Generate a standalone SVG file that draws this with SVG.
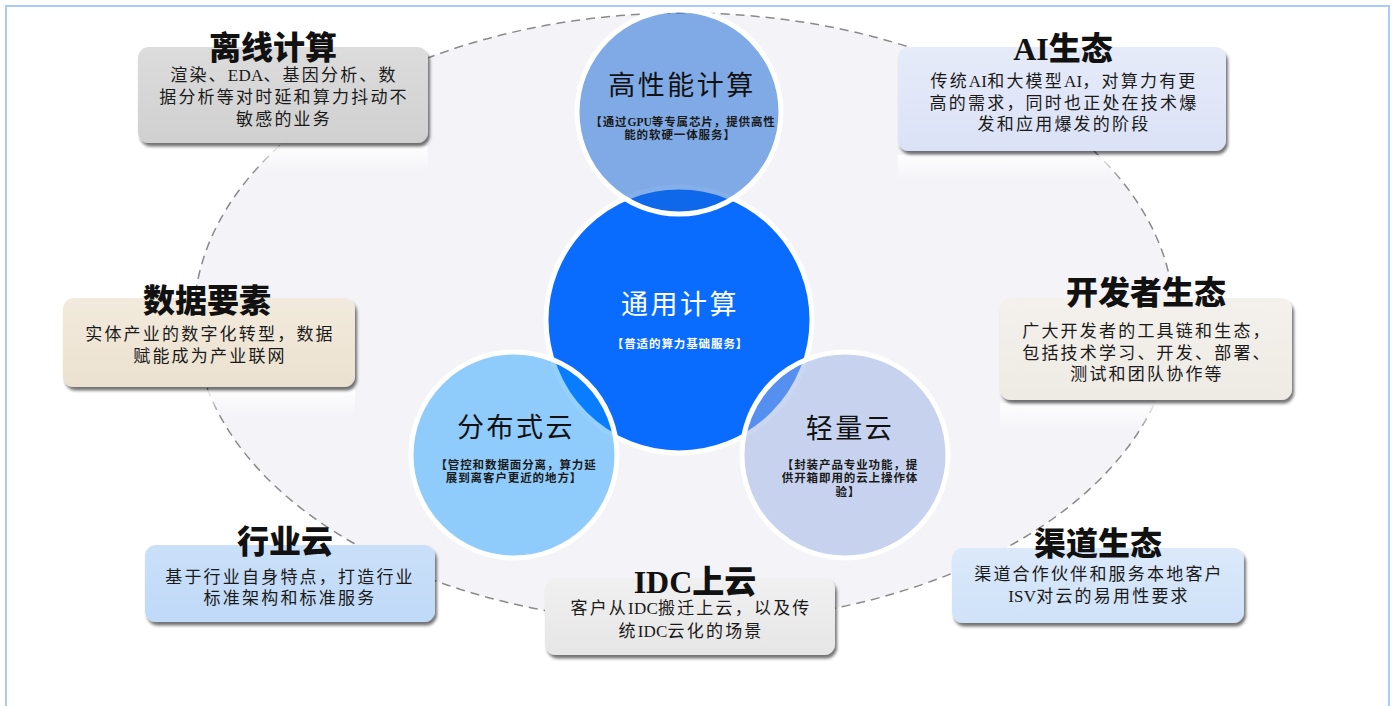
<svg xmlns="http://www.w3.org/2000/svg" width="1396" height="706" viewBox="0 0 1396 706">
<defs>
  <filter id="sh" x="-10%" y="-10%" width="125%" height="135%">
    <feDropShadow dx="2" dy="3.5" stdDeviation="1.6" flood-color="#000" flood-opacity="0.55"/>
  </filter>
  <linearGradient id="refl" x1="0" y1="0" x2="0" y2="1">
    <stop offset="0" stop-color="#fff" stop-opacity="0.9"/>
    <stop offset="1" stop-color="#fff" stop-opacity="0"/>
  </linearGradient>
  <linearGradient id="gGray" x1="0" y1="0" x2="0" y2="1"><stop offset="0" stop-color="#dcdcdc"/><stop offset="1" stop-color="#d0d0d0"/></linearGradient>
  <linearGradient id="gLav" x1="0" y1="0" x2="0" y2="1"><stop offset="0" stop-color="#e6ebf9"/><stop offset="1" stop-color="#dbe2f6"/></linearGradient>
  <linearGradient id="gBeige" x1="0" y1="0" x2="0" y2="1"><stop offset="0" stop-color="#f2eadc"/><stop offset="1" stop-color="#ebe1d0"/></linearGradient>
  <linearGradient id="gWarm" x1="0" y1="0" x2="0" y2="1"><stop offset="0" stop-color="#f4f1ec"/><stop offset="1" stop-color="#eeeae4"/></linearGradient>
  <linearGradient id="gBlue" x1="0" y1="0" x2="0" y2="1"><stop offset="0" stop-color="#cae0f9"/><stop offset="1" stop-color="#bfd9f7"/></linearGradient>
  <linearGradient id="gLight" x1="0" y1="0" x2="0" y2="1"><stop offset="0" stop-color="#f0f0f0"/><stop offset="1" stop-color="#e6e6e6"/></linearGradient>
  <linearGradient id="gSky" x1="0" y1="0" x2="0" y2="1"><stop offset="0" stop-color="#dbe9fa"/><stop offset="1" stop-color="#cfe2f8"/></linearGradient>
</defs>
<style>
  .frame { fill: #ffffff; stroke: #a9cbf9; stroke-width: 2; }
  .orbit { fill: #f4f4f8; stroke: #8a8a8a; stroke-width: 1.5; stroke-dasharray: 9 6; }
  .box { filter: url(#sh); }
  .ring { stroke: #ffffff; stroke-width: 5; }
  .title { font-family: "Liberation Serif", "Noto Sans CJK SC", serif; font-size: 32px; font-weight: 900; fill: #111; text-anchor: middle; }
  .body { font-family: "Liberation Serif", "Noto Sans CJK SC", serif; font-size: 17px; fill: #1a1a1a; text-anchor: middle; letter-spacing: 2.2px; }
  .lat { letter-spacing: 0.2px; }
  .ctitle { font-family: "Liberation Serif", "Noto Sans CJK SC", serif; font-size: 27px; fill: #111; text-anchor: middle; letter-spacing: 2.5px; }
  .csub { font-family: "Liberation Serif", "Noto Sans CJK SC", serif; font-size: 11.5px; font-weight: bold; fill: #1a1a1a; text-anchor: middle; letter-spacing: 0.9px; }
  .white { fill: #ffffff; }
</style>

<rect class="frame" x="6" y="6" width="1383" height="710"/>

<g id="orbit">
  <ellipse class="orbit" cx="684" cy="318" rx="490" ry="305"/>
</g>

<g id="reflections">
  <rect x="138" y="146" width="290" height="26" fill="url(#refl)"/>
  <rect x="898" y="155" width="328" height="26" fill="url(#refl)"/>
  <rect x="63" y="390" width="292" height="26" fill="url(#refl)"/>
  <rect x="1000" y="403" width="292" height="28" fill="url(#refl)"/>
  <rect x="145" y="625" width="290" height="24" fill="url(#refl)"/>
  <rect x="545" y="658" width="290" height="24" fill="url(#refl)"/>
  <rect x="952" y="626" width="292" height="24" fill="url(#refl)"/>
</g>

<g id="node-general">
  <circle class="ring" cx="679" cy="320" r="133" fill="#0a6cff"/>
  <text class="ctitle white" x="680" y="314" font-size="30" letter-spacing="3">通用计算</text>
  <text class="csub white" x="680" y="348" letter-spacing="1.4">【普适的算力基础服务】</text>
</g>

<g id="node-hpc">
  <circle class="ring" cx="679" cy="112" r="102" fill="#1566d5" fill-opacity="0.52"/>
  <text class="ctitle" x="682" y="95">高性能计算</text>
  <text class="csub" x="683" y="126">【通过<tspan letter-spacing="0">GPU</tspan>等专属芯片，提供高性</text>
  <text class="csub" x="680" y="139">能的软硬一体服务】</text>
</g>

<g id="node-distributed">
  <circle class="ring" cx="514" cy="455" r="103" fill="#0a95ff" fill-opacity="0.43"/>
  <text class="ctitle" x="516" y="437">分布式云</text>
  <text class="csub" x="516" y="469">【管控和数据面分离，算力延</text>
  <text class="csub" x="514" y="482">展到离客户更近的地方】</text>
</g>

<g id="node-light">
  <circle class="ring" cx="845" cy="455" r="103" fill="#9cb3e5" fill-opacity="0.52"/>
  <text class="ctitle" x="850" y="438">轻量云</text>
  <text class="csub" x="850" y="469">【封装产品专业功能，提</text>
  <text class="csub" x="850" y="482">供开箱即用的云上操作体</text>
  <text class="csub" x="848" y="496">验】</text>
</g>

<g id="node-offline">
  <rect class="box" x="138" y="47" width="290" height="96" rx="11" fill="url(#gGray)"/>
  <text class="title" x="273" y="59">离线计算</text>
  <text class="body" x="284" y="80.5">渲染、<tspan class="lat">EDA</tspan>、基因分析、数</text>
  <text class="body" x="284" y="102.5">据分析等对时延和算力抖动不</text>
  <text class="body" x="284" y="124.5">敏感的业务</text>
</g>

<g id="node-ai">
  <rect class="box" x="898" y="47" width="328" height="104" rx="11" fill="url(#gLav)"/>
  <text class="title" x="1063" y="60">AI生态</text>
  <text class="body" x="1064" y="86.5">传统<tspan class="lat">AI</tspan>和大模型<tspan class="lat">AI</tspan>，对算力有更</text>
  <text class="body" x="1064" y="108.5">高的需求，同时也正处在技术爆</text>
  <text class="body" x="1064" y="129.5">发和应用爆发的阶段</text>
</g>

<g id="node-data">
  <rect class="box" x="63" y="298" width="292" height="89" rx="11" fill="url(#gBeige)"/>
  <text class="title" x="207" y="312">数据要素</text>
  <text class="body" x="210" y="339.5">实体产业的数字化转型，数据</text>
  <text class="body" x="210" y="361.5">赋能成为产业联网</text>
</g>

<g id="node-dev">
  <rect class="box" x="1000" y="298" width="292" height="102" rx="11" fill="url(#gWarm)"/>
  <text class="title" x="1146" y="304">开发者生态</text>
  <text class="body" x="1147" y="336.5">广大开发者的工具链和生态，</text>
  <text class="body" x="1147" y="358.5">包括技术学习、开发、部署、</text>
  <text class="body" x="1147" y="379.5">测试和团队协作等</text>
</g>

<g id="node-industry">
  <rect class="box" x="145" y="545" width="290" height="77" rx="11" fill="url(#gBlue)"/>
  <text class="title" x="285" y="553">行业云</text>
  <text class="body" x="290" y="582.5">基于行业自身特点，打造行业</text>
  <text class="body" x="290" y="603.5">标准架构和标准服务</text>
</g>

<g id="node-idc">
  <rect class="box" x="545" y="578" width="290" height="77" rx="11" fill="url(#gLight)"/>
  <text class="title" x="695" y="593">IDC上云</text>
  <text class="body" x="691" y="613.5">客户从<tspan class="lat">IDC</tspan>搬迁上云，以及传</text>
  <text class="body" x="691" y="636.5">统<tspan class="lat">IDC</tspan>云化的场景</text>
</g>

<g id="node-channel">
  <rect class="box" x="952" y="548" width="292" height="75" rx="11" fill="url(#gSky)"/>
  <text class="title" x="1098" y="555">渠道生态</text>
  <text class="body" x="1099" y="579.5">渠道合作伙伴和服务本地客户</text>
  <text class="body" x="1099" y="601.5"><tspan class="lat">ISV</tspan>对云的易用性要求</text>
</g>

<g id="connectors"></g>
</svg>
